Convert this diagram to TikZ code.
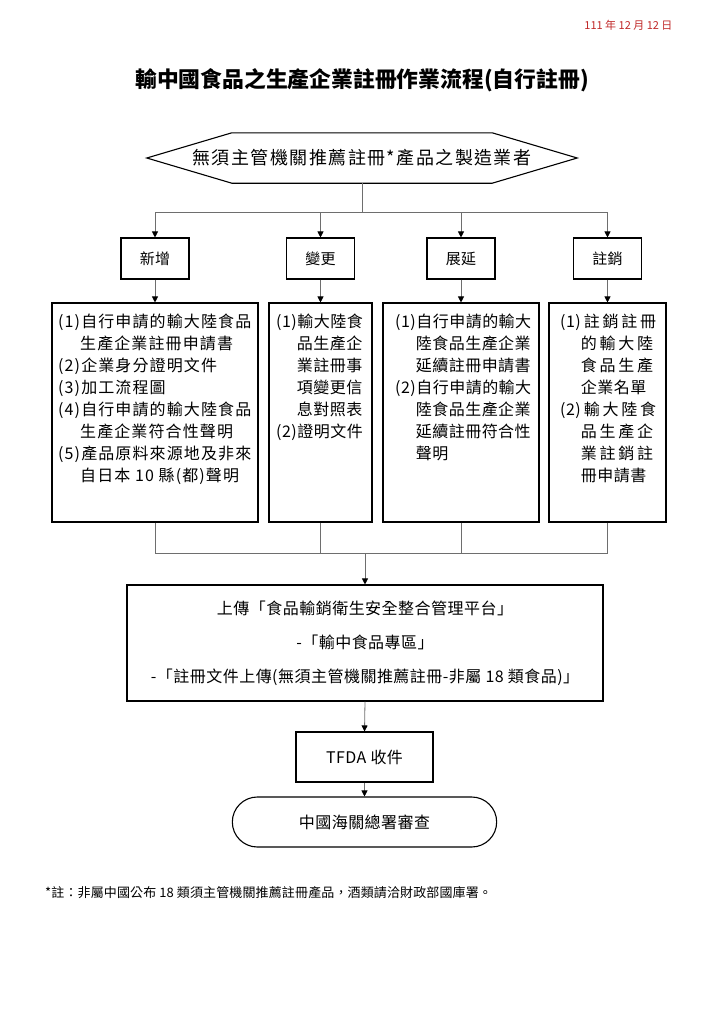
\documentclass[tikz,border=0pt]{standalone}
\usepackage{fontspec}
\setmainfont{Noto Sans CJK TC}
\newfontfamily\cjkbody[LetterSpace=3]{Noto Sans CJK TC}
\newfontfamily\cjkwide[LetterSpace=7]{Noto Sans CJK TC}
\newfontfamily\cjkspread[LetterSpace=17]{Noto Sans CJK TC}
\newfontfamily\cjknote[LetterSpace=1]{Noto Sans CJK TC}
\newfontfamily\cjkhex[LetterSpace=8]{Noto Sans CJK TC}
\usetikzlibrary{arrows.meta,shapes.misc}
\definecolor{datered}{RGB}{192,40,40}
\definecolor{linkgray}{RGB}{110,110,110}

\begin{document}
\begin{tikzpicture}[x=1pt,y=-1pt,
  frame/.style={draw=black,line width=1.1pt},
  link/.style={draw=linkgray,line width=0.8pt},
  flow/.style={link,-{Triangle[width=6pt,length=6pt,color=black]}},
  tagbox/.style={frame,minimum width=68pt,minimum height=41pt,font=\cjkbody\fontsize{15}{18}\selectfont},
  docbox/.style={frame,minimum height=219pt},
  doctext/.style={anchor=north west,inner sep=0pt,align=left,font=\cjkbody\fontsize{16}{22}\selectfont},
  stepbox/.style={frame,font=\cjkbody\fontsize{16}{20}\selectfont},
]
  \useasboundingbox (0,0) rectangle (720,1018);

  % date and title
  \node[anchor=east,text=datered,font=\fontsize{11}{13}\selectfont] (date) at (676,25) {111 年 12 月 12 日};
  \node[font=\bfseries\fontsize{21.8}{26}\selectfont] (title) at (362,80) {輸中國食品之生產企業註冊作業流程(自行註冊)};

  % manufacturer (hexagon)
  \node[minimum width=430pt,minimum height=50pt,inner sep=0pt,
        font=\cjkhex\fontsize{18}{22}\selectfont] (maker) at (362,158)
        {無須主管機關推薦註冊*產品之製造業者};
  \draw[frame] (maker.west) -- ([xshift=85pt]maker.north west) -- ([xshift=-85pt]maker.north east)
    -- (maker.east) -- ([xshift=-85pt]maker.south east) -- ([xshift=85pt]maker.south west) -- cycle;

  % four cases
  \node[tagbox] (newT) at (155,258.5) {新增};
  \node[tagbox] (chgT) at (320.5,258.5) {變更};
  \node[tagbox] (extT) at (461,258.5) {展延};
  \node[tagbox] (delT) at (607.5,258.5) {註銷};

  % documents
  \node[docbox,minimum width=206pt] (newD) at (155,412.5) {};
  \node[docbox,minimum width=103pt] (chgD) at (320.5,412.5) {};
  \node[docbox,minimum width=156pt] (extD) at (461,412.5) {};
  \node[docbox,minimum width=117pt] (delD) at (607.5,412.5) {};

  \node[doctext,font=\cjkwide\fontsize{16}{22}\selectfont] (newX) at (58,314)
    {(1)自行申請的輸大陸食品\\
     \hphantom{(1)}生產企業註冊申請書\\
     (2)企業身分證明文件\\
     (3)加工流程圖\\
     (4)自行申請的輸大陸食品\\
     \hphantom{(1)}生產企業符合性聲明\\
     (5)產品原料來源地及非來\\
     \hphantom{(1)}自日本 10 縣(都)聲明};
  \node[doctext] (chgX) at (276,314)
    {(1)輸大陸食\\
     \hphantom{(1)}品生產企\\
     \hphantom{(1)}業註冊事\\
     \hphantom{(1)}項變更信\\
     \hphantom{(1)}息對照表\\
     (2)證明文件};
  \node[doctext] (extX) at (395,314)
    {(1)自行申請的輸大\\
     \hphantom{(1)}陸食品生產企業\\
     \hphantom{(1)}延續註冊申請書\\
     (2)自行申請的輸大\\
     \hphantom{(1)}陸食品生產企業\\
     \hphantom{(1)}延續註冊符合性\\
     \hphantom{(1)}聲明};
  \node[doctext] (delX) at (560,314)
    {(1)\hspace{3pt}{\cjkspread 註銷註冊}\\
     \hphantom{(1)}{\cjkspread 的輸大陸}\\
     \hphantom{(1)}{\cjkspread 食品生產}\\
     \hphantom{(1)}企業名單\\
     (2)\hspace{3pt}{\cjkspread 輸大陸食}\\
     \hphantom{(1)}{\cjkspread 品生產企}\\
     \hphantom{(1)}{\cjkspread 業註銷註}\\
     \hphantom{(1)}冊申請書};

  % upload and review
  \node[frame,minimum width=476pt,minimum height=116pt,align=center,
        font=\cjkbody\fontsize{16}{34}\selectfont] (upload) at (365,643)
    {上傳「食品輸銷衛生安全整合管理平台」\\
     -「輸中食品專區」\\
     -「註冊文件上傳(無須主管機關推薦註冊-非屬 18 類食品)」};
  \node[stepbox,minimum width=137pt,minimum height=50pt] (tfda) at (364.5,757) {TFDA 收件};
  \node[stepbox,rounded rectangle,minimum width=271pt,minimum height=50pt] (gacc) at (364.5,822) {中國海關總署審查};

  \node[anchor=west,inner sep=0pt,font=\cjknote\fontsize{13}{16}\selectfont] (note) at (45,893)
    {*註：非屬中國公布 18 類須主管機關推薦註冊產品，酒類請洽財政部國庫署。};

  % connectors
  \coordinate (split) at (362,212);
  \coordinate (merge) at (365,553);
  \draw[link] (maker.south) -- (split);
  \draw[link] (newT.north |- split) -- (delT.north |- split);
  \foreach \t/\d in {newT/newD,chgT/chgD,extT/extD,delT/delD}{
    \draw[flow] (\t.north |- split) -- (\t.north);
    \draw[flow] (\t.south) -- (\d.north);
    \draw[link] (\d.south) -- (\d.south |- merge);
  }
  \draw[link] (newD.south |- merge) -- (delD.south |- merge);
  \draw[flow] (merge) -- (upload.north);
  \draw[flow] (upload.south) -- (tfda.north);
  \draw[flow] (tfda.south) -- (gacc.north);
\end{tikzpicture}
\end{document}
